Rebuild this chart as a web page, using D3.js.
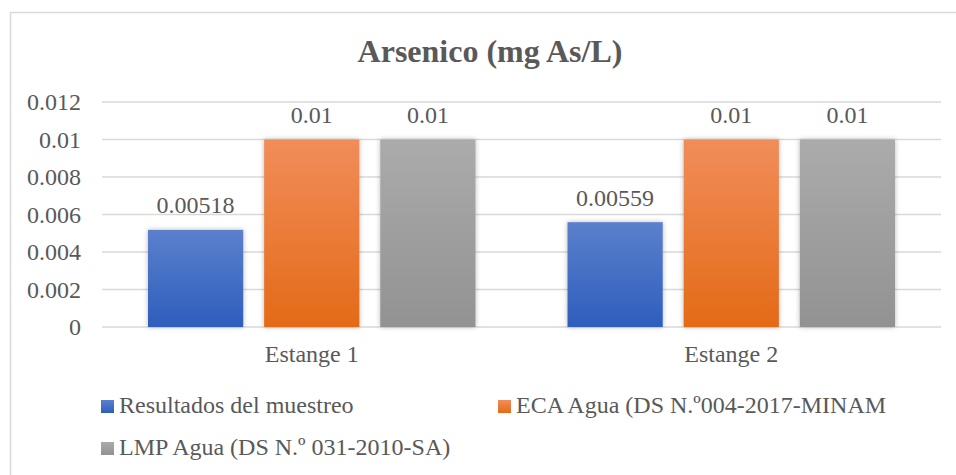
<!DOCTYPE html>
<html>
<head>
<meta charset="utf-8">
<script src="https://cdn.jsdelivr.net/npm/d3@7"></script>
<style>
  body { margin: 0; background: #fff; }
</style>
</head>
<body>
<div id="chart"></div>
<script>
// data
const categories = ["Estange 1", "Estange 2"];
const seriesNames = ["Resultados del muestreo", "ECA Agua (DS N.º004-2017-MINAM", "LMP Agua (DS N.º 031-2010-SA)"];
const muestreo = [0.00518, 0.00559];
const eca = [0.01, 0.01];
const lmp = [0.01, 0.01];
const valueLabels = [["0.00518", "0.01", "0.01"], ["0.00559", "0.01", "0.01"]];
const yTicks = [0, 0.002, 0.004, 0.006, 0.008, 0.01, 0.012];

const FONT = "'Liberation Serif', 'Times New Roman', serif";
const INK = "#595959";

const W = 956, H = 475;
const margin = { top: 102, right: 15, bottom: 148, left: 102 };
const width = W - margin.left - margin.right;
const height = H - margin.top - margin.bottom;

const svg = d3.select("#chart").append("svg")
    .attr("width", W)
    .attr("height", H);

const defs = svg.append("defs");
const grads = [["#5b80cd", "#2d5ebc"], ["#f18d5a", "#e46a17"], ["#ababab", "#929292"]];
grads.forEach((c, i) => {
    const g = defs.append("linearGradient").attr("id", "grad" + i)
        .attr("x1", 0).attr("y1", 0).attr("x2", 0).attr("y2", 1);
    g.append("stop").attr("offset", "0%").attr("stop-color", c[0]);
    g.append("stop").attr("offset", "100%").attr("stop-color", c[1]);
});
const f = defs.append("filter").attr("id", "shadow")
    .attr("x", "-20%").attr("y", "-20%").attr("width", "140%").attr("height", "140%");
f.append("feDropShadow").attr("dx", 0).attr("dy", 0).attr("stdDeviation", 2.5)
    .attr("flood-color", "#000").attr("flood-opacity", 0.28);

// chart border
svg.append("rect")
    .attr("x", 10.5).attr("y", 12.5)
    .attr("width", 960).attr("height", 480)
    .attr("fill", "none").attr("stroke", "#d9d9d9").attr("stroke-width", 1.5);

svg.append("text")
    .attr("x", 490).attr("y", 62)
    .attr("text-anchor", "middle")
    .style("font-family", FONT).style("fill", INK)
    .style("font-weight", "bold").style("font-size", "32px")
    .text("Arsenico (mg As/L)");

const g = svg.append("g").attr("transform", `translate(${margin.left},${margin.top})`);

const x0 = d3.scaleBand().domain(categories).range([0, width]).paddingInner(0).paddingOuter(0);
const x1 = d3.scaleBand().domain(d3.range(3)).range([46, x0.bandwidth() - 46]).paddingInner(0.18).paddingOuter(0);
const y = d3.scaleLinear().domain([0, 0.012]).range([height, 0]);

// gridlines
g.selectAll(".grid").data(yTicks).join("line")
    .attr("x1", 0).attr("x2", width)
    .attr("y1", d => y(d)).attr("y2", d => y(d))
    .attr("stroke", "#d9d9d9").attr("stroke-width", 1.5);

// y axis labels
const yAxis = g.append("g")
    .call(d3.axisLeft(y).tickValues(yTicks).tickSize(0).tickPadding(21)
        .tickFormat(d => d === 0 ? "0" : d3.format(".3~f")(d)));
yAxis.select(".domain").remove();
yAxis.selectAll("text").style("font-size", "24px").style("fill", INK).style("font-family", FONT);

const series = [muestreo, eca, lmp];
const rows = categories.map((c, i) => series.map((s, j) => ({ cat: c, idx: j, value: s[i], label: valueLabels[i][j] })));

const groups = g.selectAll(".grp").data(rows).join("g")
    .attr("transform", (d, i) => `translate(${x0(categories[i])},0)`);

groups.selectAll("rect").data(d => d).join("rect")
    .attr("x", d => x1(d.idx))
    .attr("y", d => y(d.value))
    .attr("width", x1.bandwidth())
    .attr("height", d => y(0) - y(d.value))
    .attr("fill", d => `url(#grad${d.idx})`)
    .attr("filter", "url(#shadow)");

groups.selectAll("text.val").data(d => d).join("text")
    .attr("class", "val")
    .attr("x", d => x1(d.idx) + x1.bandwidth() / 2)
    .attr("y", d => y(d.value) - 16.5)
    .attr("text-anchor", "middle")
    .style("font-size", "24px").style("fill", INK).style("font-family", FONT)
    .text(d => d.label);

// x axis labels
const xAxis = g.append("g").attr("transform", `translate(0,${height})`)
    .call(d3.axisBottom(x0).tickSize(0).tickPadding(0));
xAxis.select(".domain").remove();
xAxis.selectAll("text").attr("y", 35).attr("dy", null)
    .style("font-size", "24px").style("fill", INK).style("font-family", FONT);

// legend
const legendPos = [[101, 413], [498, 413], [101, 455]];
seriesNames.forEach((name, i) => {
    const lg = svg.append("g").attr("transform", `translate(${legendPos[i][0]},${legendPos[i][1]})`);
    lg.append("rect").attr("x", 0).attr("y", -13).attr("width", 13).attr("height", 13)
        .attr("fill", `url(#grad${i})`);
    lg.append("text").attr("x", 18).attr("y", 0)
        .style("font-size", "24px").style("fill", INK).style("font-family", FONT)
        .text(name);
});
</script>
</body>
</html>
